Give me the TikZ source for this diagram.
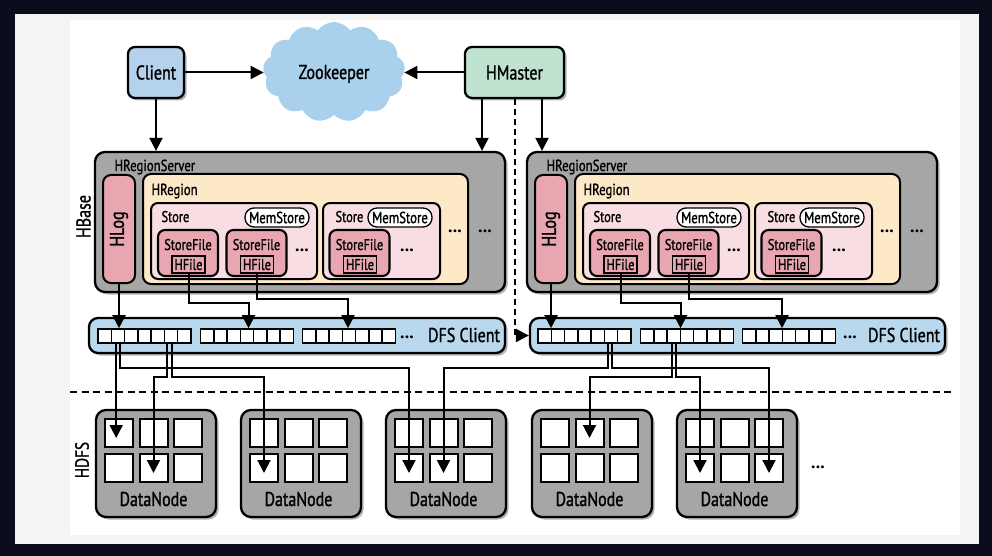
\documentclass[tikz,border=0pt]{standalone}
\usepackage{fontspec}
\setmainfont{PT Sans}
\newfontfamily\cf[FakeStretch=0.8,FakeBold=1.2]{PT Sans}
\usetikzlibrary{arrows.meta,shapes.symbols,shadows,calc}
\definecolor{bgdark}{HTML}{0B0D1C}
\definecolor{panel}{HTML}{F4F4F4}
\definecolor{gry}{HTML}{A6A6A6}
\definecolor{peach}{HTML}{FDE8C8}
\definecolor{lpink}{HTML}{F8DDE2}
\definecolor{dpink}{HTML}{E8A7B0}
\definecolor{dfsb}{HTML}{B9D8EE}
\definecolor{clb}{HTML}{B5D2ED}
\definecolor{hmg}{HTML}{BFE3CF}
\definecolor{zkb}{HTML}{A9D0EC}
\newcommand\fbig{\cf\fontsize{20}{24}\selectfont}
\newcommand\fmid{\cf\fontsize{16}{19}\selectfont}
\newcommand\fsml{\cf\fontsize{15.5}{18}\selectfont}
\newcommand\fdots{\bfseries\fontsize{18}{20}\selectfont}

\newcommand\hserver[2]{%
\begin{scope}[xshift=#2pt]
\node[gbox,shad,minimum width=410pt,minimum height=140pt] (#1hrs) at (300,222) {};
\node[font=\fmid,anchor=base west] (#1hrsl) at (111,171) {HRegionServer};
\node[pbox,minimum width=32pt,minimum height=108pt] (#1hlog) at (119,229) {};
\node[font=\fbig,rotate=90] (#1hlogt) at (119,229) {HLog};
\node[obox,minimum width=325pt,minimum height=110pt] (#1hreg) at (305.5,229) {};
\node[font=\fmid,anchor=base west] (#1hregl) at (148,195) {HRegion};
\node[sbox,minimum width=166pt,minimum height=76pt] (#1st1) at (234,241) {};
\node[font=\fsml,anchor=base west] (#1st1l) at (158,222) {Store};
\node[mem] (#1ms1) at (277,217.5) {MemStore};
\node[sfbox] (#1sf1) at (188,253) {};
\node[font=\fsml,anchor=base] (#1sf1l) at (188,250) {StoreFile};
\node[hf] (#1hf1) at (188.5,264.5) {HFile};
\node[sfbox] (#1sf2) at (256.5,253) {};
\node[font=\fsml,anchor=base] (#1sf2l) at (256.5,250) {StoreFile};
\node[hf] (#1hf2) at (257,264.5) {HFile};
\node[dots] (#1d1) at (302,251) {...};
\node[sbox,minimum width=117pt,minimum height=76pt] (#1st2) at (381.5,241) {};
\node[font=\fsml,anchor=base west] (#1st2l) at (332,222) {Store};
\node[mem] (#1ms2) at (400,217.5) {MemStore};
\node[sfbox] (#1sf3) at (359.5,253) {};
\node[font=\fsml,anchor=base] (#1sf3l) at (359.5,250) {StoreFile};
\node[hf] (#1hf3) at (360,264.5) {HFile};
\node[dots] (#1d2) at (407,251) {...};
\node[dots] (#1d3) at (455,232) {...};
\node[dots] (#1d4) at (485,232) {...};
\end{scope}}

\newcommand\datanode[2]{%
\node[gbox,shad,minimum width=120pt,minimum height=107pt] (#1) at (#2,463.5) {};
\node[sq] (#1a) at (#2-37,433) {};
\node[sq] (#1b) at (#2-2.5,433) {};
\node[sq] (#1c) at (#2+32,433) {};
\node[sq] (#1d) at (#2-37,468) {};
\node[sq] (#1e) at (#2-2.5,468) {};
\node[sq] (#1f) at (#2+32,468) {};
\node[font=\fbig,anchor=base] (#1l) at (#2-2.5,506) {DataNode};
\foreach \s in {a,b,c,d,e,f}{\coordinate (#1t\s) at ($(#1\s.center)+(0,5)$);}
}

\begin{document}
\begin{tikzpicture}[x=1pt,y=-1pt,
  shad/.style={drop shadow={shadow xshift=2.5pt,shadow yshift=-2.5pt,fill=black,opacity=0.3}},
  gbox/.style={draw,line width=2.3pt,fill=gry,rounded corners=10pt,inner sep=0pt},
  pbox/.style={draw,line width=2pt,fill=dpink,rounded corners=8pt,inner sep=0pt},
  obox/.style={draw,line width=2pt,fill=peach,rounded corners=8pt,inner sep=0pt},
  sbox/.style={draw,line width=2pt,fill=lpink,rounded corners=7pt,inner sep=0pt},
  sfbox/.style={draw,line width=2.1pt,fill=dpink,rounded corners=7pt,minimum width=60pt,minimum height=46pt,inner sep=0pt},
  hf/.style={draw,line width=1.3pt,fill=dpink,minimum width=33pt,minimum height=17pt,inner sep=0pt,font=\fsml},
  mem/.style={draw,line width=1.3pt,fill=white,rounded corners=9pt,minimum width=64pt,minimum height=19pt,inner sep=0pt,font=\fmid},
  dots/.style={font=\fdots,anchor=base,inner sep=0pt},
  sq/.style={draw,line width=2pt,fill=white,minimum size=28pt,inner sep=0pt},
  blk/.style={draw,line width=1.6pt,fill=white,minimum width=93pt,minimum height=14pt,inner sep=0pt,
    path picture={\foreach \k in {1,...,6}{\draw[line width=1.5pt]
      ($(path picture bounding box.north west)!\k/7!(path picture bounding box.north east)$) --
      ($(path picture bounding box.south west)!\k/7!(path picture bounding box.south east)$);}}},
  dfsbox/.style={draw,line width=2.3pt,fill=dfsb,rounded corners=9pt,minimum width=416pt,minimum height=35pt,inner sep=0pt},
  topbox/.style={draw,line width=2.3pt,rounded corners=7pt,inner sep=0pt,minimum height=51pt,font=\fbig,text height=14pt,text depth=0pt},
  conn/.style={line width=2pt,draw=black},
  arr/.style={conn,-{Triangle[width=13pt,length=13pt]}},
  darr/.style={conn,dash pattern=on 6pt off 4pt,-{Triangle[width=13pt,length=13pt]}}
]
\useasboundingbox (0,0) rectangle (992,556);
\fill[bgdark] (0,0) rectangle (992,556);
\fill[panel] (15,14) rectangle (979,544);
\fill[white] (70,20) rectangle (960,535);

% top row
\node[cloud,cloud puffs=13,cloud puff arc=110,aspect=1.5,fill=zkb,minimum width=142pt,minimum height=100pt,inner sep=0pt,font=\fbig,text height=14pt,text depth=0pt] (zk) at (334,72) {Zookeeper};
\node[topbox,shad,fill=clb,minimum width=56pt] (client) at (156,72.5) {Client};
\node[topbox,shad,fill=hmg,minimum width=99pt] (hmaster) at (514.5,72.5) {HMaster};

% side labels
\node[font=\fbig,rotate=90] (hbase) at (83.5,216.5) {HBase};
\node[font=\cf\fontsize{19}{22}\selectfont,rotate=90] (hdfs) at (82,460) {HDFS};

% region servers
\hserver{L}{0}
\hserver{R}{432}

% DFS clients
\node[dfsbox,shad] (Ldfs) at (297,335.5) {};
\node[blk] (Lg1) at (144.5,336) {};
\node[blk] (Lg2) at (247,336) {};
\node[blk] (Lg3) at (349,336) {};
\node[dots] (Ldd) at (407,338.5) {...};
\node[font=\fbig,anchor=base] (Ldl) at (464,342) {DFS Client};

\node[dfsbox,shad,minimum width=415pt] (Rdfs) at (737.5,335.5) {};
\node[blk] (Rg1) at (584.5,336) {};
\node[blk] (Rg2) at (687,336) {};
\node[blk] (Rg3) at (789,336) {};
\node[dots] (Rdd) at (850,338.5) {...};
\node[font=\fbig,anchor=base] (Rdl) at (904,342) {DFS Client};

% separator
\coordinate (sepl) at (70,392);
\coordinate (sepr) at (953,392);
\draw[conn,dash pattern=on 7pt off 4.5pt] (sepl) -- (sepr);

% data nodes
\datanode{DA}{156}
\datanode{DB}{301}
\datanode{DC}{446}
\datanode{DD}{592}
\datanode{DE}{737}
\node[dots] (dnd) at (818,468) {...};

% top connectors
\draw[arr] (client.east) -- (client.east -| zk.west);
\draw[arr] (hmaster.west) -- (hmaster.west -| zk.east);
\draw[arr] (client.south) -- (client.south |- Lhrs.north);
\coordinate (hm1) at ([xshift=-32.5pt]hmaster.south);
\coordinate (hm2) at ([xshift=27.5pt]hmaster.south);
\draw[arr] (hm1) -- (hm1 |- Lhrs.north);
\draw[arr] (hm2) -- (hm2 |- Rhrs.north);
\draw[darr] (hmaster.south) -- (hmaster.south |- Rdfs.west) -- (Rdfs.west);

% server to DFS connectors
\draw[arr] (Lhlog.south) -- (Lhlog.south |- Lg1.north);
\draw[arr] (Rhlog.south) -- (Rhlog.south |- Rg1.north);
\coordinate (Lt2) at ($(Lhf1.south |- Lg2.north)+(60,0)$);
\coordinate (Lt3) at ($(Lhf2.south |- Lg3.north)+(91,0)$);
\coordinate (Rt2) at ($(Rhf1.south |- Rg2.north)+(60,0)$);
\coordinate (Rt3) at ($(Rhf2.south |- Rg3.north)+(93,0)$);
\draw[arr] (Lhf1.south) -- ++(0,29) -| (Lt2);
\draw[arr] (Lhf2.south) -- ++(0,25) -| (Lt3);
\draw[arr] (Rhf1.south) -- ++(0,29) -| (Rt2);
\draw[arr] (Rhf2.south) -- ++(0,25) -| (Rt3);

% DFS to DataNode connectors
\coordinate (Ls1) at ($(Lg1.south west)+(19,0)$);
\coordinate (Ls2) at ($(Lg1.south west)+(23,0)$);
\coordinate (Ls3) at ($(Lg1.south west)+(70,0)$);
\coordinate (Ls4) at ($(Lg1.south west)+(75,0)$);
\coordinate (Rs1) at ($(Rg1.south west)+(71,0)$);
\coordinate (Rs2) at ($(Rg1.south west)+(75,0)$);
\coordinate (Rs3) at ($(Rg2.south west)+(32,0)$);
\coordinate (Rs4) at ($(Rg2.south west)+(36,0)$);
\draw[arr] (Ls1) -- (Ls1 |- DAta);
\draw[arr] (Ls2) -- ++(0,24) -| (DCtd);
\draw[arr] (Ls3) -- ++(0,33) -| (DAte);
\draw[arr] (Ls4) -- ++(0,33) -| (DBtd);
\draw[arr] (Rs1) -- ++(0,24) -| (DCte);
\draw[arr] (Rs2) -- ++(0,24) -| (DEtf);
\draw[arr] (Rs3) -- ++(0,33) -| (DDtb);
\draw[arr] (Rs4) -- ++(0,33) -| (DEtd);
\end{tikzpicture}
\end{document}
